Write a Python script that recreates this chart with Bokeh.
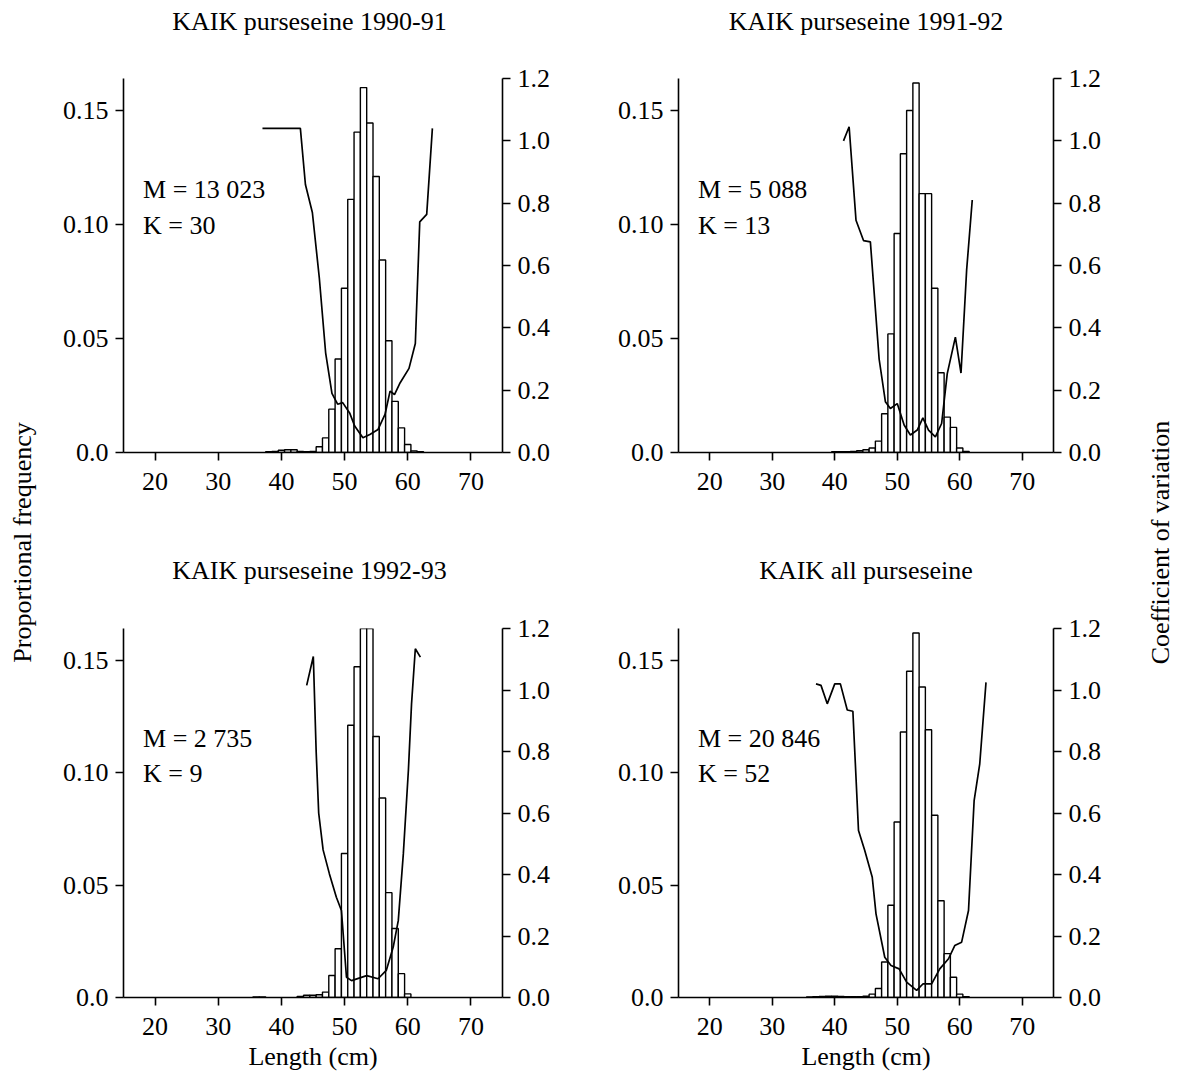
import math
from bokeh.plotting import figure
from bokeh.models import (Range1d, LinearAxis, FixedTicker, CustomJSTickFormatter, Label)
from bokeh.layouts import row, column
from bokeh.embed import file_html
from bokeh.resources import INLINE

FONT = "Liberation Serif"

titles = ["KAIK purseseine 1990-91", "KAIK purseseine 1991-92",
          "KAIK purseseine 1992-93", "KAIK all purseseine"]
m_labels = ["M = 13 023", "M = 5 088", "M = 2 735", "M = 20 846"]
k_labels = ["K = 30", "K = 13", "K = 9", "K = 52"]

# proportional frequency histograms (length in cm, 1 cm bins)
p1_len = [38, 39, 40, 41, 42, 43, 44, 45, 46, 47, 48, 49, 50, 51, 52, 53, 54, 55, 56, 57, 58, 59, 60, 61, 62]
p1_freq = [0.0003, 0.0005, 0.001, 0.0012, 0.0012, 0.0005, 0.0004, 0.0005, 0.0025, 0.0064, 0.019, 0.041,
           0.072, 0.111, 0.1405, 0.160, 0.1445, 0.121, 0.0844, 0.049, 0.0224, 0.0108, 0.0035, 0.0007, 0.0003]

p2_len = [40, 41, 42, 43, 44, 45, 46, 47, 48, 49, 50, 51, 52, 53, 54, 55, 56, 57, 58, 59, 60, 61]
p2_freq = [0.0003, 0.0003, 0.0004, 0.0005, 0.0008, 0.0012, 0.002, 0.005, 0.017, 0.052, 0.096, 0.131,
           0.150, 0.162, 0.1135, 0.1135, 0.072, 0.035, 0.0155, 0.011, 0.002, 0.0005]

p3_len = [36, 37, 43, 44, 45, 46, 47, 48, 49, 50, 51, 52, 53, 54, 55, 56, 57, 58, 59, 60]
p3_freq = [0.0003, 0.0003, 0.0005, 0.001, 0.001, 0.0012, 0.0024, 0.0098, 0.0217, 0.064, 0.121, 0.147,
           0.172, 0.170, 0.116, 0.0887, 0.0466, 0.0307, 0.0106, 0.0016]

p4_len = [36, 37, 38, 39, 40, 41, 42, 43, 44, 45, 46, 47, 48, 49, 50, 51, 52, 53, 54, 55, 56, 57, 58, 59, 60, 61]
p4_freq = [0.0003, 0.0004, 0.0005, 0.0006, 0.0006, 0.0005, 0.0004, 0.0004, 0.0004, 0.0006, 0.0015, 0.004,
           0.0158, 0.041, 0.078, 0.118, 0.145, 0.162, 0.138, 0.119, 0.081, 0.043, 0.0195, 0.009, 0.0015, 0.0004]

# coefficient of variation curves
p1_cv_len = [37, 43, 43.8, 44.9, 46, 47, 48, 48.9, 49.7, 50.8, 51.6, 52.9, 54, 55.3, 56.4, 57.2, 57.9,
             58.8, 60.2, 61.2, 61.9, 63.0, 63.9]
p1_cv = [1.04, 1.04, 0.86, 0.77, 0.56, 0.32, 0.19, 0.155, 0.16, 0.127, 0.085, 0.047, 0.058, 0.074, 0.122,
         0.197, 0.186, 0.224, 0.27, 0.35, 0.74, 0.764, 1.04]

p2_cv_len = [41.4, 42.3, 43.4, 44.6, 45.7, 47.1, 48.1, 48.9, 50, 51.1, 52.1, 53.2, 54.1, 55.0, 56.1,
             57.1, 58.0, 59.3, 60.2, 61.1, 62.0]
p2_cv = [1.0, 1.045, 0.745, 0.68, 0.676, 0.30, 0.163, 0.141, 0.157, 0.088, 0.056, 0.072, 0.111, 0.072,
         0.05, 0.093, 0.253, 0.37, 0.255, 0.585, 0.81]

p3_cv_len = [44.0, 45.05, 45.5, 45.9, 46.6, 47.6, 48.7, 49.5, 50.3, 51.1, 53.5, 55.3, 56.6, 57.7, 58.5,
             59.3, 60.1, 60.6, 61.2, 62.0]
p3_cv = [1.015, 1.109, 0.80, 0.60, 0.48, 0.402, 0.326, 0.283, 0.066, 0.055, 0.071, 0.061, 0.088, 0.164,
         0.25, 0.467, 0.738, 0.955, 1.134, 1.107]

p4_cv_len = [37.0, 37.8, 38.8, 40.0, 40.9, 42.0, 42.9, 43.8, 44.8, 46.0, 46.6, 48.0, 49.0, 50.3, 51.5,
             53.1, 54.1, 55.5, 56.8, 58.2, 59.2, 60.3, 61.4, 62.3, 63.2, 64.2]
p4_cv = [1.02, 1.015, 0.955, 1.02, 1.02, 0.935, 0.931, 0.543, 0.478, 0.391, 0.272, 0.131, 0.104, 0.093,
         0.05, 0.023, 0.044, 0.044, 0.093, 0.126, 0.169, 0.18, 0.283, 0.64, 0.76, 1.025]

x_ticks = [20, 30, 40, 50, 60, 70]
freq_ticks = [0, 0.05, 0.10, 0.15]
cv_ticks = [0, 0.2, 0.4, 0.6, 0.8, 1.0, 1.2]

lens = [p1_len, p2_len, p3_len, p4_len]
freqs = [p1_freq, p2_freq, p3_freq, p4_freq]
cv_lens = [p1_cv_len, p2_cv_len, p3_cv_len, p4_cv_len]
cvs = [p1_cv, p2_cv, p3_cv, p4_cv]

FS = "26px"
YMAX = 0.164


def style_axis(ax):
    ax.axis_line_color = "black"
    ax.axis_line_width = 1.6
    ax.major_tick_line_color = "black"
    ax.major_tick_line_width = 1.6
    ax.major_tick_in = 0
    ax.major_tick_out = 8
    ax.minor_tick_line_color = None
    ax.major_label_text_font = FONT
    ax.major_label_text_font_size = FS
    ax.major_label_text_color = "black"
    ax.major_label_standoff = 7


def make_panel(i, width, height, lb, rb, tb, bb, bottom_row):
    p = figure(width=width, height=height, output_backend="svg", toolbar_location=None,
               x_range=Range1d(15, 75), y_range=Range1d(0, YMAX),
               min_border_left=lb, min_border_right=rb, min_border_top=tb, min_border_bottom=bb,
               outline_line_color=None, background_fill_color="white", border_fill_color="white")
    p.extra_y_ranges = {"cv": Range1d(0, 1.2)}
    p.xgrid.visible = False
    p.ygrid.visible = False

    p.xaxis.ticker = FixedTicker(ticks=x_ticks)
    p.yaxis.ticker = FixedTicker(ticks=freq_ticks)
    p.yaxis.formatter = CustomJSTickFormatter(code="return tick == 0 ? '0.0' : tick.toFixed(2);")
    style_axis(p.xaxis[0])
    style_axis(p.yaxis[0])
    p.xaxis.major_label_standoff = 12
    if bottom_row:
        p.xaxis.axis_label = "Length (cm)"
        p.xaxis.axis_label_text_font = FONT
        p.xaxis.axis_label_text_font_size = FS
        p.xaxis.axis_label_text_font_style = "normal"
        p.xaxis.axis_label_text_color = "black"
        p.xaxis.axis_label_standoff = 4

    rax = LinearAxis(y_range_name="cv", ticker=FixedTicker(ticks=cv_ticks),
                     formatter=CustomJSTickFormatter(code="return tick.toFixed(1);"))
    style_axis(rax)
    p.add_layout(rax, "right")

    p.vbar(x=lens[i], top=freqs[i], width=1.0, bottom=0, fill_color="white",
           line_color="black", line_width=1.4)
    p.line(x=cv_lens[i], y=cvs[i], y_range_name="cv", line_color="black", line_width=1.7)

    p.add_layout(Label(x=18.1, y=0.1152, text=m_labels[i], text_font=FONT, text_font_size=FS,
                       text_baseline="alphabetic", text_color="black"))
    p.add_layout(Label(x=18.1, y=0.0997, text=k_labels[i], text_font=FONT, text_font_size=FS,
                       text_baseline="alphabetic", text_color="black"))
    return p


def title_strip(height, left_text, right_text, ycenter):
    # a strip of figure whose frame is the whole strip, holding the two panel titles
    f = figure(width=1085, height=height, output_backend="svg", toolbar_location=None,
               x_range=Range1d(0, 1085), y_range=Range1d(0, height), min_border=0,
               x_axis_location=None, y_axis_location=None, outline_line_color=None)
    f.xgrid.visible = False
    f.ygrid.visible = False
    for xc, txt in ((259, left_text), (815.5, right_text)):
        f.add_layout(Label(x=xc, y=ycenter, text=txt, text_align="center", text_baseline="middle",
                           text_font=FONT, text_font_size=FS, text_color="black"))
    return f


t1 = title_strip(45, titles[0], titles[1], 45 - 21)
p1 = make_panel(0, 540, 495, 73, 88, 33, 88, False)
p2 = make_panel(1, 545, 495, 88, 82, 33, 88, False)
t2 = title_strip(50, titles[2], titles[3], 50 - 30)
p3 = make_panel(2, 540, 487, 73, 88, 38, 80, True)
p4 = make_panel(3, 545, 487, 88, 82, 38, 80, True)


def side_label(width, text, xpos):
    f = figure(width=width, height=1077, output_backend="svg", toolbar_location=None,
               x_range=Range1d(0, width), y_range=Range1d(0, 1077), min_border=0,
               x_axis_location=None, y_axis_location=None, outline_line_color=None)
    f.xgrid.visible = False
    f.ygrid.visible = False
    f.add_layout(Label(x=xpos, y=1077 - 542, text=text, angle=math.pi / 2, text_align="center",
                       text_baseline="middle", text_font=FONT, text_font_size=FS, text_color="black"))
    return f


left = side_label(50, "Proportional frequency", 22)
right = side_label(42, "Coefficient of variation", 25)

layout = row(left, column(t1, row(p1, p2), t2, row(p3, p4)), right)

open("out.html", "w").write(file_html(layout, INLINE))
